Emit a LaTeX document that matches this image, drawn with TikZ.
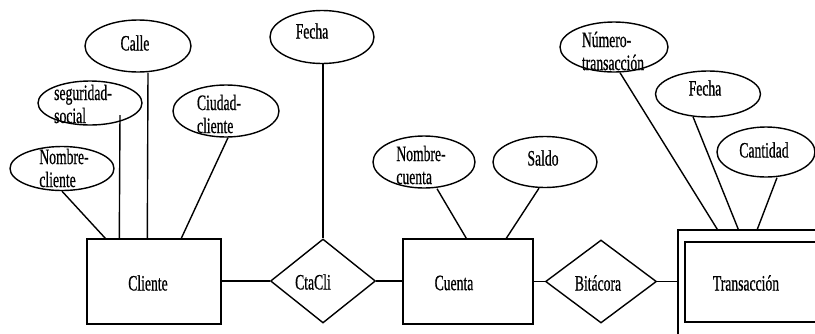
\documentclass[tikz,border=0pt]{standalone}
\usepackage{fontspec}
\setmainfont[FakeStretch=0.62, FakeBold=0.6]{Liberation Serif}
\usetikzlibrary{shapes.geometric}

\tikzset{
  er/.style={line width=1.4pt},
  attr/.style={er, draw, ellipse, inner sep=0pt},
  entity/.style={er, draw, rectangle, inner sep=0pt},
  rel/.style={er, draw, diamond, inner sep=0pt},
  lbl/.style={inner sep=0pt, align=left, font=\fontsize{22}{23}\selectfont},
  link/.style={er}
}

\begin{document}
\begin{tikzpicture}[x=1pt, y=-1pt]
\useasboundingbox (0,0) rectangle (815,333);
\clip (0,0) rectangle (815,333);

% entities
\node[entity, minimum width=134pt, minimum height=85pt] (cliente) at (154,281.5) {};
\node[entity, minimum width=130pt, minimum height=85pt] (cuenta) at (468,281.5) {};
\node[entity, minimum width=222pt, minimum height=115pt] (transout) at (789,287.5) {};
\node[entity, minimum width=210pt, minimum height=80pt] (transin) at (790,282) {};

% relationships
\node[rel, minimum width=105pt, minimum height=84pt] (ctacli) at (323,281) {};
\node[rel, minimum width=111pt, minimum height=83pt] (bitacora) at (601,281.5) {};

% attributes
\node[attr, minimum width=106pt, minimum height=52pt] (calle) at (138,46) {};
\node[attr, minimum width=104pt, minimum height=44pt] (segsoc) at (90,103) {};
\node[attr, minimum width=106pt, minimum height=52pt] (ciudad) at (226,111) {};
\node[attr, minimum width=104pt, minimum height=44pt] (nomcli) at (62,168.5) {};
\node[attr, minimum width=104pt, minimum height=53pt] (fechacc) at (322,37) {};
\node[attr, minimum width=102pt, minimum height=52pt] (nomcta) at (424,162) {};
\node[attr, minimum width=104pt, minimum height=51pt] (saldo) at (545,162) {};
\node[attr, minimum width=108pt, minimum height=50pt] (numtr) at (614,47) {};
\node[attr, minimum width=105pt, minimum height=46pt] (fechatr) at (708,94) {};
\node[attr, minimum width=98pt, minimum height=50pt] (cantidad) at (766,152) {};

% texts
\node[lbl] (tcliente) at (148,283) {Cliente};
\node[lbl] (tcuenta) at (454,283) {Cuenta};
\node[lbl] (ttrans) at (746,283) {Transacción};
\node[lbl] (tctacli) at (313,282) {CtaCli};
\node[lbl] (tbitacora) at (598,283) {Bitácora};
\node[lbl] (tcalle) at (135,43) {Calle};
\node[lbl] (tsegsoc) at (83,104) {seguridad-\\social};
\node[lbl] (tciudad) at (219,114) {Ciudad-\\cliente};
\node[lbl] (tnomcli) at (64,168) {Nombre-\\cliente};
\node[lbl] (tfechacc) at (312,31) {Fecha};
\node[lbl] (tnomcta) at (421,165) {Nombre-\\cuenta};
\node[lbl] (tsaldo) at (543,158) {Saldo};
\node[lbl] (tnumtr) at (613,51) {Número-\\transacción};
\node[lbl] (tfechatr) at (705,88) {Fecha};
\node[lbl] (tcantidad) at (764,150) {Cantidad};

% attribute links
\draw[link] (nomcli.south) -- ([xshift=19pt]cliente.north west);
\draw[link] ([xshift=30pt,yshift=-12pt]segsoc.center) -- ([xshift=33pt]cliente.north west);
\draw[link] ([xshift=10pt]calle.south) -- ([xshift=61pt]cliente.north west);
\draw[link] ([xshift=2pt]ciudad.south) -- ([xshift=95pt]cliente.north west);
\draw[link] (fechacc.south -| ctacli.north) -- (ctacli.north);
\draw[link] ([xshift=13pt]nomcta.south) -- ([xshift=64pt]cuenta.north west);
\draw[link] ([xshift=-6pt]saldo.south) -- ([xshift=104pt]cuenta.north west);
\draw[link] ([xshift=6pt]numtr.south) -- ([xshift=40pt]transout.north west);
\draw[link] ([xshift=-15pt,yshift=1pt]fechatr.south) -- ([xshift=61pt]transout.north west);
\draw[link] ([xshift=11pt]cantidad.south) -- ([xshift=80pt]transout.north west);

% relationship links
\draw[link] (cliente.east |- ctacli.west) -- (ctacli.west);
\draw[link] (ctacli.east) -- (ctacli.east -| cuenta.west);
\draw[link] (cuenta.east |- bitacora.west) -- (bitacora.west);
\draw[link] (bitacora.east) -- (bitacora.east -| transout.west);
\end{tikzpicture}
\end{document}
